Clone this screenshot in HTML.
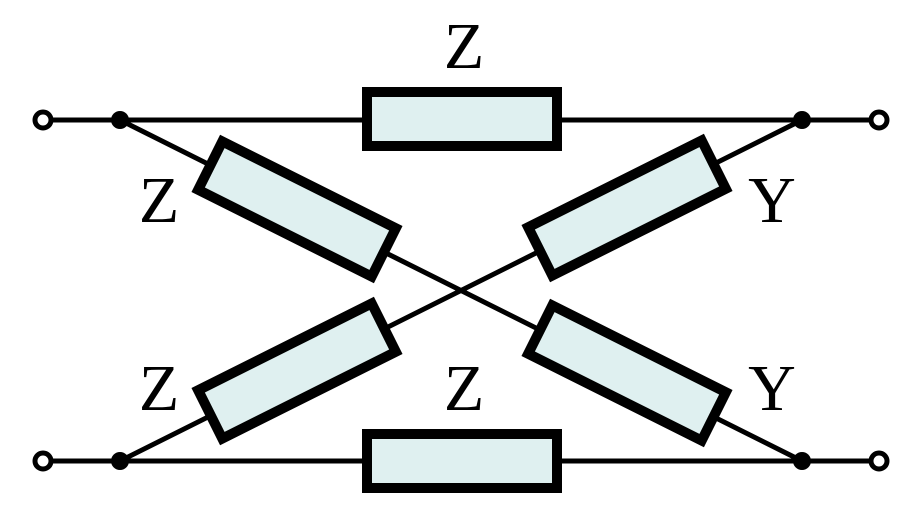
<!DOCTYPE html>
<html><head><style>html,body{margin:0;padding:0;background:#fff;}</style></head>
<body>
<svg width="921" height="512" viewBox="0 0 921 512" xmlns="http://www.w3.org/2000/svg">
<g stroke="#000" stroke-width="5" fill="none">
<line x1="52" y1="120" x2="870" y2="120"/>
<line x1="52" y1="461" x2="870" y2="461"/>
<line x1="120" y1="120" x2="802" y2="461"/>
<line x1="120" y1="461" x2="802" y2="120"/>
</g>
<g fill="#dff0f0" stroke="#000" stroke-width="10">
<rect x="367" y="92" width="190" height="54"/>
<rect x="367" y="434" width="190" height="54"/>
<rect x="-97" y="-27" width="194" height="54" transform="translate(297,209) rotate(26.565)"/>
<rect x="-97" y="-27" width="194" height="54" transform="translate(627,208) rotate(-26.565)"/>
<rect x="-97" y="-27" width="194" height="54" transform="translate(297,371) rotate(-26.565)"/>
<rect x="-97" y="-27" width="194" height="54" transform="translate(627,373) rotate(26.565)"/>
</g>
<g fill="#fff" stroke="#000" stroke-width="5">
<circle cx="43" cy="120" r="8"/><circle cx="879" cy="120" r="8"/>
<circle cx="43" cy="461" r="8"/><circle cx="879" cy="461" r="8"/>
</g>
<g fill="#000">
<circle cx="120" cy="120" r="9"/><circle cx="802" cy="120" r="9"/>
<circle cx="120" cy="461" r="9"/><circle cx="802" cy="461" r="9"/>
</g>
<g font-family="Liberation Serif, serif" font-size="66" text-anchor="middle" fill="#000">
<text x="464" y="68">Z</text>
<text x="159" y="222">Z</text>
<text x="772" y="222">Y</text>
<text x="159" y="410">Z</text>
<text x="464" y="410">Z</text>
<text x="772" y="410">Y</text>
</g>
</svg>
</body></html>
